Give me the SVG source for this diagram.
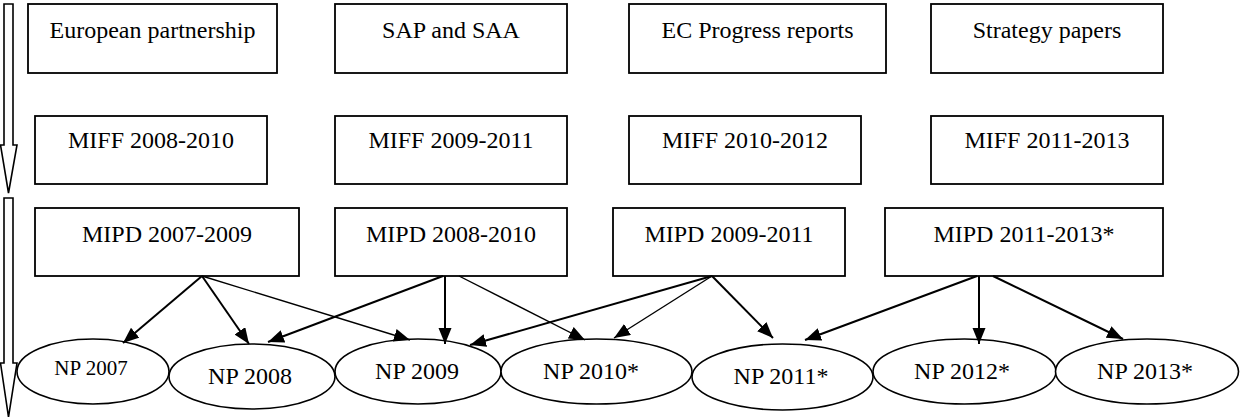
<svg xmlns="http://www.w3.org/2000/svg" width="1240" height="417" viewBox="0 0 1240 417">
<style>
.box{fill:#fff;stroke:#000;stroke-width:1.8}
.ell{fill:#fff;stroke:#000;stroke-width:1.6}
.c{stroke:#000;stroke-width:2;fill:none;marker-end:url(#ah)}
.thin{stroke-width:1.4}
.blk{fill:#fff;stroke:#000;stroke-width:1.6}
</style>
<defs>
<marker id="ah" markerUnits="userSpaceOnUse" markerWidth="17" markerHeight="14" refX="16" refY="6.5" orient="auto">
<path d="M0,0 L16,6.5 L0,13 z" fill="#000"/>
</marker>
</defs>
<rect width="1240" height="417" fill="#fff"/>
<g id="timeline">
<path class="blk" d="M4,4 H13 V145 H17 L8.5,193 L0.5,145 H4 Z"/>
<path class="blk" d="M4,198 H13 V363 H17 L8.5,417 L0.5,363 H4 Z"/>
</g>
<g font-family="Liberation Serif, Times New Roman, DejaVu Serif, serif" font-size="24" fill="#000" text-anchor="middle">
<g id="n-european"><rect class="box" x="28" y="4" width="249" height="69"/><text x="152.5" y="38">European partnership</text></g>
<g id="n-sap"><rect class="box" x="335" y="4" width="232" height="69"/><text x="451" y="38">SAP and SAA</text></g>
<g id="n-ec"><rect class="box" x="629" y="4" width="257" height="69"/><text x="757.5" y="38">EC Progress reports</text></g>
<g id="n-strategy"><rect class="box" x="931" y="4" width="232" height="69"/><text x="1047" y="38">Strategy papers</text></g>
<g id="n-miff1"><rect class="box" x="35" y="116" width="232" height="68"/><text x="151" y="148">MIFF 2008-2010</text></g>
<g id="n-miff2"><rect class="box" x="335" y="116" width="232" height="68"/><text x="451" y="148">MIFF 2009-2011</text></g>
<g id="n-miff3"><rect class="box" x="629" y="116" width="232" height="68"/><text x="745" y="148">MIFF 2010-2012</text></g>
<g id="n-miff4"><rect class="box" x="931" y="116" width="232" height="68"/><text x="1047" y="148">MIFF 2011-2013</text></g>
<g id="n-mipd1"><rect class="box" x="35" y="208" width="264" height="68"/><text x="167" y="242">MIPD 2007-2009</text></g>
<g id="n-mipd2"><rect class="box" x="335" y="208" width="232" height="68"/><text x="451" y="242">MIPD 2008-2010</text></g>
<g id="n-mipd3"><rect class="box" x="613" y="208" width="232" height="68"/><text x="729" y="242">MIPD 2009-2011</text></g>
<g id="n-mipd4"><rect class="box" x="885" y="208" width="278" height="68"/><text x="1024" y="242">MIPD 2011-2013*</text></g>
<g id="n-np2007"><ellipse class="ell" cx="93" cy="371.5" rx="76" ry="32.5"/><text x="91" y="375" font-size="21">NP 2007</text></g>
<g id="n-np2008"><ellipse class="ell" cx="252" cy="376.5" rx="83" ry="32.5"/><text x="250" y="384">NP 2008</text></g>
<g id="n-np2009"><ellipse class="ell" cx="418" cy="371.5" rx="83" ry="32.5"/><text x="417" y="379">NP 2009</text></g>
<g id="n-np2010"><ellipse class="ell" cx="596.5" cy="371.5" rx="95.5" ry="32.5"/><text x="591" y="379">NP 2010*</text></g>
<g id="n-np2011"><ellipse class="ell" cx="782.5" cy="377" rx="90.5" ry="33"/><text x="781" y="384">NP 2011*</text></g>
<g id="n-np2012"><ellipse class="ell" cx="964.5" cy="371.5" rx="91.5" ry="32.5"/><text x="962" y="379">NP 2012*</text></g>
<g id="n-np2013"><ellipse class="ell" cx="1147" cy="371.5" rx="91.5" ry="32.5"/><text x="1145" y="379">NP 2013*</text></g>
</g>
<g id="connectors">
<line class="c" x1="202" y1="276" x2="123" y2="343"/>
<line class="c" x1="202" y1="276" x2="249" y2="344"/>
<line class="c thin" x1="202" y1="276" x2="410" y2="340"/>
<line class="c" x1="443" y1="276" x2="268" y2="342"/>
<line class="c" x1="445" y1="276" x2="445" y2="344"/>
<line class="c thin" x1="459" y1="276" x2="585" y2="340"/>
<line class="c" x1="712" y1="276" x2="470" y2="345"/>
<line class="c thin" x1="712" y1="276" x2="614" y2="338"/>
<line class="c" x1="712" y1="276" x2="773" y2="338"/>
<line class="c" x1="977" y1="276" x2="805" y2="340"/>
<line class="c" x1="979" y1="276" x2="979" y2="344"/>
<line class="c" x1="993" y1="276" x2="1123" y2="339"/>
</g>
</svg>
